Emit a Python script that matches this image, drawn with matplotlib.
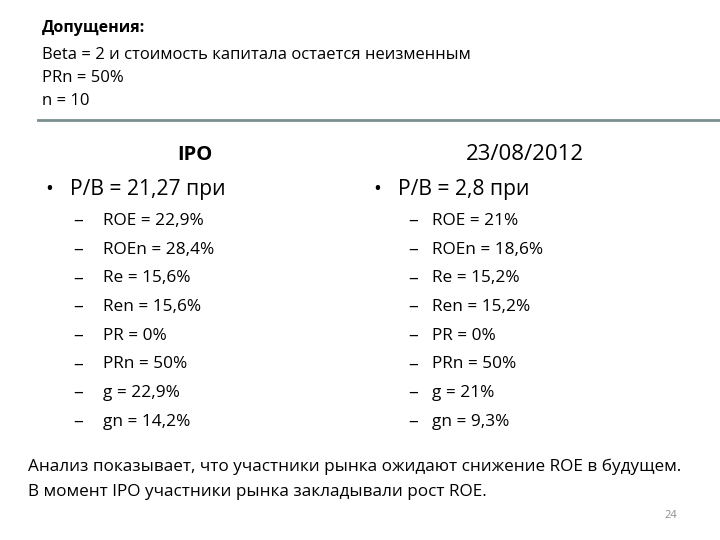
import matplotlib
matplotlib.use("Agg")
import matplotlib.pyplot as plt

assumptions_title = "Допущения:"
assumptions = ["Beta = 2 и стоимость капитала остается неизменным", "PRn = 50%", "n = 10"]
col_titles = ["IPO", "23/08/2012"]
col_bullets = ["P/B = 21,27 при", "P/B = 2,8 при"]
ipo_items = ["ROE = 22,9%", "ROEn = 28,4%", "Re = 15,6%", "Ren = 15,6%", "PR = 0%", "PRn = 50%", "g = 22,9%", "gn = 14,2%"]
now_items = ["ROE = 21%", "ROEn = 18,6%", "Re = 15,2%", "Ren = 15,2%", "PR = 0%", "PRn = 50%", "g = 21%", "gn = 9,3%"]
conclusion = ["Анализ показывает, что участники рынка ожидают снижение ROE в будущем.",
              "В момент IPO участники рынка закладывали рост ROE."]
page = "24"

plt.rcParams['font.family'] = ['Open Sans', 'DejaVu Sans']
fig = plt.figure(figsize=(7.2, 5.4), dpi=100)
W, H = 720, 540
def t(x, y, s, **kw):
    fig.text(x / W, 1 - y / H, s, va='center', **kw)

t(42, 28, assumptions_title, fontsize=11.5, fontweight='bold')
for i, s in enumerate(assumptions):
    t(42, 55 + i * 23, s, fontsize=12)
fig.add_artist(plt.Line2D([38 / W, 1], [1 - 120 / H] * 2, color='#7A8E90', lw=2))

t(195, 155, col_titles[0], fontsize=14.5, fontweight='bold', ha='center')
t(525, 155, col_titles[1], fontsize=16, ha='center')
t(45, 189, "•", fontsize=15)
t(70, 189, col_bullets[0], fontsize=15.2)
t(373, 189, "•", fontsize=15)
t(398, 189, col_bullets[1], fontsize=15.2)
for i, (a, b) in enumerate(zip(ipo_items, now_items)):
    y = 221 + i * 28.7
    t(73, y, "–", fontsize=14)
    t(103, y, a, fontsize=12.4)
    t(408, y, "–", fontsize=14)
    t(432, y, b, fontsize=12.4)
for i, s in enumerate(conclusion):
    t(28, 467 + i * 25, s, fontsize=12.3)
t(664, 515, page, fontsize=8, color='#8C8C8C')
fig.savefig("out.png", dpi=100)
